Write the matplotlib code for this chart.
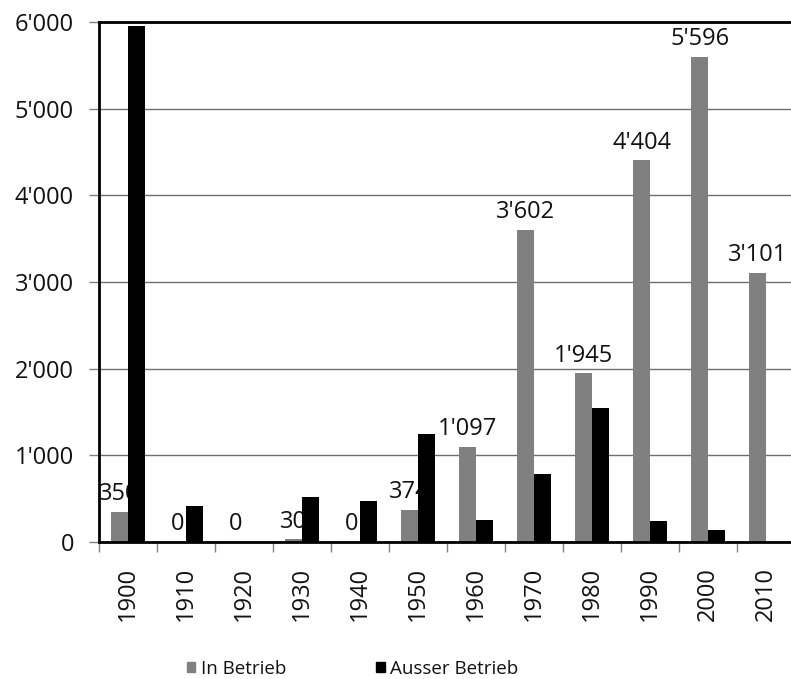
import matplotlib
matplotlib.use("Agg")
import matplotlib.pyplot as plt
from matplotlib.patches import Patch
import numpy as np

# data
years = ["1900", "1910", "1920", "1930", "1940", "1950",
         "1960", "1970", "1980", "1990", "2000", "2010"]
in_betrieb = [350, 0, 0, 30, 0, 374, 1097, 3602, 1945, 4404, 5596, 3101]
ausser_betrieb = [5950, 415, 0, 515, 475, 1245, 250, 790, 1550, 240, 135, 0]
y_ticks = [0, 1000, 2000, 3000, 4000, 5000, 6000]

plt.rcParams['font.family'] = ['Open Sans', 'DejaVu Sans']

fig = plt.figure(figsize=(7.91, 6.79), dpi=100)
W, H = 791, 679
ax = fig.add_axes([99 / W, 137 / H, 696 / W, 520 / H])

x = np.arange(len(years))
bw = 0.29

ax.bar(x - bw / 2, in_betrieb, width=bw, color='#808080', zorder=2)
ax.bar(x + bw / 2, ausser_betrieb, width=bw, color='#000000', zorder=4)

def fmt(v):
    return f"{v:,.0f}".replace(",", "'")

for xi, v in zip(x, in_betrieb):
    ax.annotate(fmt(v), (xi - bw / 2, v), xytext=(0, 8.5), textcoords='offset points',
                ha='center', va='baseline', fontsize=17, color='#111111', zorder=3)

ax.set_xlim(-0.5, len(years) - 0.5)
ax.set_ylim(0, 6000)
ax.set_yticks(y_ticks)
ax.set_yticklabels([fmt(v) for v in y_ticks], fontsize=17, color='#111111')
ax.yaxis.grid(True, color='#6e6e6e', linewidth=1.0, zorder=0)
ax.set_axisbelow(True)

ax.set_xticks(x)
ax.set_xticklabels(years, rotation=90, fontsize=17, color='#111111')
ax.set_xticks(np.arange(len(years) + 1) - 0.5, minor=True)
ax.tick_params(axis='x', which='major', length=0, pad=18)
ax.tick_params(axis='x', which='minor', length=7, color='#808080', width=1)
ax.tick_params(axis='y', length=7, color='#808080', width=1, pad=11)

for side in ['left', 'bottom', 'top']:
    ax.spines[side].set_color('black')
    ax.spines[side].set_linewidth(2)
ax.spines['right'].set_visible(False)

handles = [Patch(color='#808080', label='In Betrieb'),
           Patch(color='#000000', label='Ausser Betrieb')]
fig.legend(handles=handles, loc='center', bbox_to_anchor=(0.446, 0.015), ncol=2,
           frameon=False, fontsize=13.5, handlelength=0.45, handleheight=0.45,
           handletextpad=0.3, columnspacing=4.8, labelcolor='#111111',
           borderpad=0, borderaxespad=0)

fig.savefig("out.png", dpi=100)
